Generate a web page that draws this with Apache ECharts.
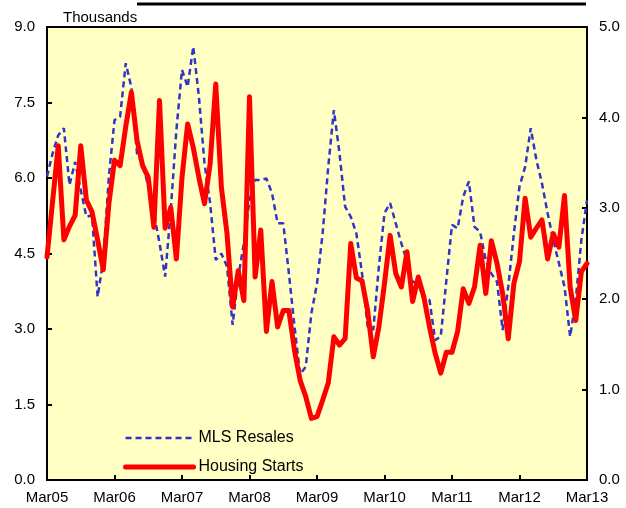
<!DOCTYPE html>
<html>
<head>
<meta charset="utf-8">
<script src="https://cdn.jsdelivr.net/npm/echarts@6/dist/echarts.min.js"></script>
<style>html,body{margin:0;padding:0;background:#fff}#c{width:626px;height:508px}</style>
</head>
<body>
<div id="c"></div>
<script>
// Monthly data, Mar 2005 .. Mar 2013
const monthNames = ['Mar','Apr','May','Jun','Jul','Aug','Sep','Oct','Nov','Dec','Jan','Feb'];
const startYear = 5;
const tickLabels = ['Mar05','Mar06','Mar07','Mar08','Mar09','Mar10','Mar11','Mar12','Mar13'];

// MLS Resales (left axis, thousands)
const mlsResales = [
  6.03, 6.49, 6.85, 6.99, 5.86, 6.32, 5.76, 5.23, 5.26, 3.64, 4.37, 6.03,
  7.15, 7.22, 8.28, 7.80, 6.49, 6.29, 5.83, 5.30, 4.71, 4.04, 5.36, 6.95,
  8.15, 7.81, 8.61, 7.62, 6.29, 5.50, 4.37, 4.50, 4.24, 3.08, 4.04, 4.70,
  5.56, 5.96, 5.96, 5.99, 5.70, 5.10, 5.10, 4.11, 3.05, 2.10, 2.25, 3.31,
  3.90, 4.90, 6.22, 7.35, 6.49, 5.43, 5.23, 4.90, 4.11, 3.05, 2.98, 4.24,
  5.30, 5.50, 5.10, 4.70, 4.34, 3.94, 3.90, 3.58, 3.58, 2.78, 2.85, 3.97,
  5.07, 5.00, 5.63, 5.93, 5.03, 4.93, 4.37, 4.10, 3.94, 2.98, 3.84, 4.90,
  5.83, 6.22, 6.99, 6.36, 5.89, 5.30, 4.77, 4.31, 3.84, 2.85, 3.58, 4.77,
  5.56
];

// Housing Starts (right axis)
const housingStarts = [
  2.46, 3.08, 3.69, 2.65, 2.80, 2.92, 3.69, 3.09, 2.96, 2.65, 2.32, 3.05,
  3.53, 3.47, 3.90, 4.28, 3.75, 3.47, 3.34, 2.79, 4.19, 2.78, 3.01, 2.44,
  3.34, 3.93, 3.67, 3.34, 3.05, 3.49, 4.37, 3.23, 2.72, 1.91, 2.31, 1.98,
  4.23, 2.24, 2.76, 1.64, 2.19, 1.69, 1.87, 1.87, 1.43, 1.10, 0.92, 0.68,
  0.70, 0.88, 1.07, 1.58, 1.49, 1.56, 2.61, 2.23, 2.20, 1.87, 1.36, 1.69,
  2.17, 2.70, 2.28, 2.13, 2.52, 1.97, 2.24, 2.02, 1.69, 1.40, 1.18, 1.41,
  1.41, 1.64, 2.11, 1.95, 2.13, 2.59, 2.06, 2.64, 2.39, 2.06, 1.56, 2.17,
  2.41, 3.11, 2.68, 2.78, 2.87, 2.44, 2.72, 2.57, 3.14, 2.13, 1.76, 2.30,
  2.39
];

const categories = mlsResales.map((_, i) => {
  const yr = startYear + Math.floor(i / 12) + ((i % 12) >= 10 ? 1 : 0);
  return monthNames[i % 12] + String(yr).padStart(2, '0');
});

const chart = echarts.init(document.getElementById('c'), null, {renderer: 'canvas'});
const font = 'Liberation Sans, Arial, sans-serif';
chart.setOption({
  animation: false,
  backgroundColor: '#ffffff',
  textStyle: {fontFamily: font},
  title: {
    text: 'Thousands', left: 58, top: 5,
    textStyle: {fontFamily: font, fontSize: 15, fontWeight: 'normal', color: '#000'}
  },
  graphic: [{
    type: 'line', shape: {x1: 137, y1: 4, x2: 586, y2: 4},
    style: {stroke: '#000', lineWidth: 3}
  }],
  grid: {
    left: 47, right: 39, top: 27, bottom: 28,
    show: true, backgroundColor: '#FFFFC4', borderColor: '#000', borderWidth: 2
  },
  legend: {
    orient: 'vertical', left: 118, top: 425,
    itemWidth: 68, itemHeight: 14, itemGap: 13,
    itemStyle: {opacity: 0},
    textStyle: {fontFamily: font, fontSize: 16, color: '#000'},
    data: [
      {name: 'MLS Resales', lineStyle: {width: 2.5, type: [6, 4], color: '#3333CC'}},
      {name: 'Housing Starts', lineStyle: {width: 5, color: '#FF0000', cap: 'round'}}
    ]
  },
  xAxis: {
    type: 'category', data: categories, boundaryGap: false,
    axisLine: {lineStyle: {color: '#000', width: 2}},
    axisTick: {inside: true, length: 5, lineStyle: {color: '#000', width: 2},
      interval: (i) => i % 12 === 0},
    axisLabel: {interval: (i) => i % 12 === 0, margin: 10,
      fontFamily: font, fontSize: 15, color: '#000',
      formatter: (v, i) => tickLabels[i / 12] || ''},
    splitLine: {show: false}
  },
  yAxis: [{
    type: 'value', min: 0, max: 9, interval: 1.5, position: 'left',
    axisLine: {show: true, lineStyle: {color: '#000', width: 2}},
    axisTick: {show: true, inside: true, length: 5, lineStyle: {color: '#000', width: 2}},
    axisLabel: {formatter: (v) => v.toFixed(1), margin: 12, fontFamily: font, fontSize: 15, color: '#000'},
    splitLine: {show: false}
  }, {
    type: 'value', min: 0, max: 5, interval: 1, position: 'right',
    axisLine: {show: true, lineStyle: {color: '#000', width: 2}},
    axisTick: {show: true, inside: true, length: 5, lineStyle: {color: '#000', width: 2}},
    axisLabel: {formatter: (v) => v.toFixed(1), margin: 12, fontFamily: font, fontSize: 15, color: '#000'},
    splitLine: {show: false}
  }],
  series: [{
    name: 'MLS Resales', type: 'line', yAxisIndex: 0, data: mlsResales,
    symbol: 'none', smooth: false,
    lineStyle: {color: '#3333CC', width: 2.5, type: [6, 4]},
    itemStyle: {color: '#3333CC'}, z: 2
  }, {
    name: 'Housing Starts', type: 'line', yAxisIndex: 1, data: housingStarts,
    symbol: 'none', smooth: false,
    lineStyle: {color: '#FF0000', width: 5, join: 'round', cap: 'round'},
    itemStyle: {color: '#FF0000'}, z: 3
  }]
});
</script>
</body>
</html>
